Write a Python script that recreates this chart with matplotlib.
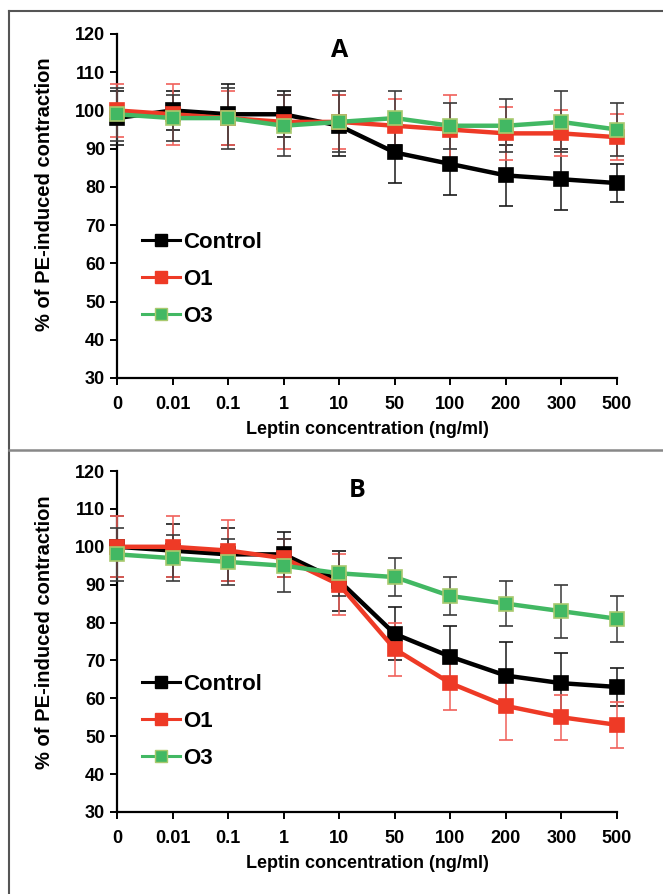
import matplotlib
matplotlib.use("Agg")
import matplotlib.pyplot as plt
from matplotlib.lines import Line2D
import numpy as np

categories = ["0", "0.01", "0.1", "1", "10", "50", "100", "200", "300", "500"]
series_names = ["Control", "O1", "O3"]

a_control = [98, 100, 99, 99, 96, 89, 86, 83, 82, 81]
a_o1 = [100, 99, 98, 97, 97, 96, 95, 94, 94, 93]
a_o3 = [99, 98, 98, 96, 97, 98, 96, 96, 97, 95]
a_control_err = [7, 5, 8, 6, 8, 8, 8, 8, 8, 5]
a_o1_err = [7, 8, 7, 7, 7, 7, 9, 7, 6, 6]
a_o3_err = [7, 6, 8, 8, 8, 7, 6, 7, 8, 7]

b_control = [100, 99, 98, 98, 91, 77, 71, 66, 64, 63]
b_o1 = [100, 100, 99, 97, 90, 73, 64, 58, 55, 53]
b_o3 = [98, 97, 96, 95, 93, 92, 87, 85, 83, 81]
b_control_err = [8, 7, 7, 6, 8, 7, 8, 9, 8, 5]
b_o1_err = [8, 8, 8, 5, 8, 7, 7, 9, 6, 6]
b_o3_err = [7, 6, 6, 7, 6, 5, 5, 6, 7, 6]

yticks = [30, 40, 50, 60, 70, 80, 90, 100, 110, 120]

plt.rcParams['font.family'] = ['Liberation Sans', 'DejaVu Sans']
plt.rcParams['font.weight'] = 'bold'

W, H = 663, 894
fig = plt.figure(figsize=(W / 100, H / 100), dpi=100)

colors = {"Control": "#000000", "O1": "#EE3A26", "O3": "#42B863"}
edges = {"Control": "#000000", "O1": "#EE3A26", "O3": "#A9C96E"}
ecolors = {"Control": "#1a1a1a", "O1": "#F0605A", "O3": "#3a3a3a"}


def panel(rect, letter, letter_pos, vals, errs, leg_anchor, ylab_y):
    ax = fig.add_axes(rect)
    x = np.arange(len(categories))
    for name, v, e in zip(series_names, vals, errs):
        ax.errorbar(x, v, yerr=e, color=colors[name], ecolor=ecolors[name],
                    elinewidth=1.1, capsize=5, capthick=1.1, lw=3.2,
                    marker='s', markersize=10.5, markerfacecolor=colors[name],
                    markeredgecolor=edges[name], markeredgewidth=1.2,
                    label=name, clip_on=False, zorder=3)
    ax.set_xlim(0, len(categories) - 1)
    ax.set_ylim(30, 120)
    ax.set_yticks(yticks)
    ax.set_xticks(x)
    ax.set_xticklabels(categories)
    for s in ['top', 'right']:
        ax.spines[s].set_visible(False)
    for s in ['left', 'bottom']:
        ax.spines[s].set_linewidth(1.6)
    ax.tick_params(axis='both', labelsize=13, width=1.4, length=5, direction='out')
    ax.tick_params(axis='x', pad=8)
    for lab in ax.get_xticklabels() + ax.get_yticklabels():
        lab.set_fontweight('bold')
    ax.set_xlabel("Leptin concentration (ng/ml)", fontsize=13, fontweight='bold', labelpad=6)
    ax.set_ylabel("% of PE-induced contraction", fontsize=14.5, fontweight='bold')
    ax.yaxis.set_label_coords(-0.126, ylab_y)
    ax.text(letter_pos[0], letter_pos[1], letter, transform=ax.transAxes, ha='center', va='center',
            fontsize=18, fontweight='bold', family=['Open Sans', 'DejaVu Sans'])
    handles = [Line2D([0], [0], color=colors[n], lw=2.2, marker='s', markersize=9,
                      markerfacecolor=colors[n], markeredgecolor=edges[n]) for n in series_names]
    ax.legend(handles, series_names, loc='upper left', bbox_to_anchor=leg_anchor,
              frameon=False, prop={'size': 16, 'weight': 'bold'}, handlelength=1.7,
              handletextpad=0.15, labelspacing=0.72, borderaxespad=0, borderpad=0)
    return ax


panel([117 / W, (H - 378) / H, 500 / W, 344 / H], "A", (0.446, 0.953),
      [a_control, a_o1, a_o3], [a_control_err, a_o1_err, a_o3_err], (0.05, 0.424), 0.535)
panel([117 / W, (H - 812) / H, 500 / W, 341 / H], "B", (0.48, 0.944),
      [b_control, b_o1, b_o3], [b_control_err, b_o1_err, b_o3_err], (0.05, 0.406), 0.528)

# frame lines
fig.add_artist(Line2D([8.5 / W, 8.5 / W], [0, 1 - 11 / H], transform=fig.transFigure,
                      color='#555555', lw=1.5))
fig.add_artist(Line2D([8.5 / W, 1], [1 - 11 / H, 1 - 11 / H], transform=fig.transFigure,
                      color='#555555', lw=1.5))
fig.add_artist(Line2D([8.5 / W, 1], [1 - 450 / H, 1 - 450 / H], transform=fig.transFigure,
                      color='#888888', lw=1.8))

fig.savefig("out.png", dpi=100)
